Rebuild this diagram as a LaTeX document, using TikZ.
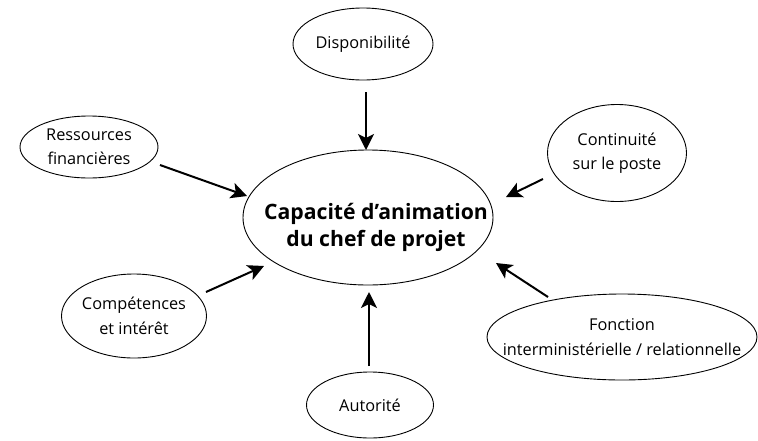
\documentclass[tikz,border=0pt]{standalone}
\usepackage{fontspec}
\setmainfont{Open Sans}
\usetikzlibrary{shapes.geometric,arrows.meta}
\tikzset{
  oval/.style={draw=black, line width=0.9pt, ellipse, inner sep=0pt},
  ovaltext/.style={align=center, inner sep=0pt, font=\fontsize{16.3}{24.5}\selectfont},
  maintext/.style={align=center, inner sep=0pt, font=\fontsize{21.2}{27}\selectfont\bfseries},
  arr/.style={line width=2pt, -{Stealth[length=16pt,width=16pt,inset=4pt]}}
}
\begin{document}
\begin{tikzpicture}[x=1pt,y=-1pt]
\useasboundingbox (0,0) rectangle (758,440);
\node[oval, minimum width=250pt, minimum height=135pt,
  label={[maintext, name=captext, xshift=8pt, yshift=-9.5pt]center:Capacité d’animation\\du chef de projet}] (cap) at (368,217.5) {};
\node[oval, minimum width=140pt, minimum height=72pt,
  label={[ovaltext, name=disptext]center:Disponibilité}] (disp) at (363,44) {};
\node[oval, minimum width=138pt, minimum height=62pt,
  label={[ovaltext, name=resstext]center:Ressources\\financières}] (ress) at (89,147) {};
\node[oval, minimum width=139pt, minimum height=97pt,
  label={[ovaltext, name=conttext]center:Continuité\\sur le poste}] (cont) at (617,153) {};
\node[oval, minimum width=270pt, minimum height=86pt,
  label={[ovaltext, name=fonctext, yshift=-0pt]center:Fonction\\interministérielle / relationnelle}] (fonc) at (622,337) {};
\node[oval, minimum width=127pt, minimum height=66pt,
  label={[ovaltext, name=autotext]center:Autorité}] (auto) at (370,405) {};
\node[oval, minimum width=145pt, minimum height=84pt,
  label={[ovaltext, name=comptext]center:Compétences\\et intérêt}] (comp) at (134,316) {};
\coordinate (dispS) at (366,92);  \coordinate (dispE) at (366,150);
\coordinate (ressS) at (160,165); \coordinate (ressE) at (247,196);
\coordinate (contS) at (543,179); \coordinate (contE) at (506,197);
\coordinate (foncS) at (548,297); \coordinate (foncE) at (496,263);
\coordinate (autoS) at (369,366); \coordinate (autoE) at (369,292);
\coordinate (compS) at (206,292); \coordinate (compE) at (264,266);
\draw[arr] (dispS) -- (dispE);
\draw[arr] (ressS) -- (ressE);
\draw[arr] (contS) -- (contE);
\draw[arr] (foncS) -- (foncE);
\draw[arr] (autoS) -- (autoE);
\draw[arr] (compS) -- (compE);
\end{tikzpicture}
\end{document}
